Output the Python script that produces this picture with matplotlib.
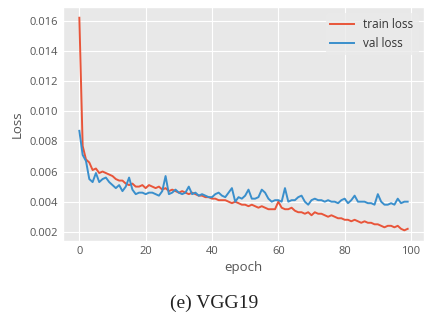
import matplotlib.pyplot as plt
import numpy as np

plt.style.use('ggplot')
plt.rcParams['font.family'] = ['Open Sans', 'DejaVu Sans']

train_loss = [0.0162, 0.0077, 0.0068, 0.0066, 0.0061, 0.0062, 0.0059, 0.0060, 0.0059, 0.0058,
              0.0057, 0.0055, 0.0054, 0.0054, 0.0052, 0.0051, 0.0052, 0.0050, 0.0050, 0.0051,
              0.0049, 0.0051, 0.0050, 0.0049, 0.0050, 0.0048, 0.0049, 0.0047, 0.0048, 0.0047,
              0.0046, 0.0047, 0.0046, 0.0045, 0.0046, 0.0045, 0.0044, 0.0044, 0.0043, 0.0043,
              0.0042, 0.0042, 0.0041, 0.0041, 0.0041, 0.0040, 0.0039, 0.0040, 0.0039, 0.0038,
              0.0038, 0.0037, 0.0038, 0.0037, 0.0036, 0.0037, 0.0036, 0.0035, 0.0035, 0.0035,
              0.0040, 0.0036, 0.0035, 0.0035, 0.0036, 0.0034, 0.0033, 0.0033, 0.0032, 0.0033,
              0.0031, 0.0033, 0.0032, 0.0032, 0.0031, 0.0030, 0.0031, 0.0030, 0.0029, 0.0029,
              0.0028, 0.0028, 0.0027, 0.0028, 0.0027, 0.0026, 0.0027, 0.0026, 0.0026, 0.0025,
              0.0025, 0.0024, 0.0023, 0.0024, 0.0024, 0.0023, 0.0024, 0.0022, 0.0021, 0.0022]
val_loss = [0.0087, 0.0071, 0.0067, 0.0055, 0.0053, 0.0059, 0.0053, 0.0055, 0.0056, 0.0053,
            0.0051, 0.0049, 0.0051, 0.0047, 0.0050, 0.0056, 0.0048, 0.0045, 0.0046, 0.0046,
            0.0045, 0.0046, 0.0046, 0.0045, 0.0044, 0.0047, 0.0057, 0.0045, 0.0046, 0.0048,
            0.0046, 0.0045, 0.0046, 0.0050, 0.0045, 0.0046, 0.0044, 0.0045, 0.0044, 0.0043,
            0.0043, 0.0045, 0.0046, 0.0044, 0.0043, 0.0046, 0.0049, 0.0040, 0.0043, 0.0042,
            0.0044, 0.0048, 0.0042, 0.0042, 0.0043, 0.0048, 0.0046, 0.0042, 0.0040, 0.0041,
            0.0041, 0.0040, 0.0049, 0.0040, 0.0041, 0.0041, 0.0043, 0.0044, 0.0040, 0.0038,
            0.0041, 0.0042, 0.0041, 0.0041, 0.0040, 0.0041, 0.0040, 0.0040, 0.0039, 0.0041,
            0.0042, 0.0039, 0.0041, 0.0044, 0.0040, 0.0040, 0.0040, 0.0039, 0.0039, 0.0038,
            0.0045, 0.0040, 0.0038, 0.0038, 0.0039, 0.0038, 0.0042, 0.0039, 0.0040, 0.0040]
epochs = np.arange(len(train_loss))

fig = plt.figure(figsize=(4.31, 3.23), dpi=100, facecolor='white')
ax = fig.add_axes([0.146, 0.254, 0.838, 0.724])
ax.set_facecolor('#E8E8E8')

ax.plot(epochs, train_loss, color='#E8553A', lw=1.4, label='train loss')
ax.plot(epochs, val_loss, color='#3A8FCC', lw=1.4, label='val loss')

ax.set_xticks([0, 20, 40, 60, 80, 100])
ax.set_yticks(np.arange(0.002, 0.0161, 0.002))
ax.set_yticklabels(['%.3f' % v for v in np.arange(0.002, 0.0161, 0.002)])
ax.tick_params(labelsize=8, colors='#555555', length=0)
ax.set_xlabel('epoch', fontsize=9.5, color='#555555', labelpad=3)
ax.set_ylabel('Loss', fontsize=9.5, color='#555555')

leg = ax.legend(loc='upper right', fontsize=8.5, frameon=True)
leg.get_frame().set_facecolor('#EAEAEA')
leg.get_frame().set_edgecolor('#EAEAEA')
for t in leg.get_texts():
    t.set_color('#333333')

fig.text(0.497, 0.062, '(e) VGG19', fontsize=14, family='Liberation Serif',
         ha='center', va='center', color='#222222')

fig.savefig('out.png', dpi=100, facecolor='white')
